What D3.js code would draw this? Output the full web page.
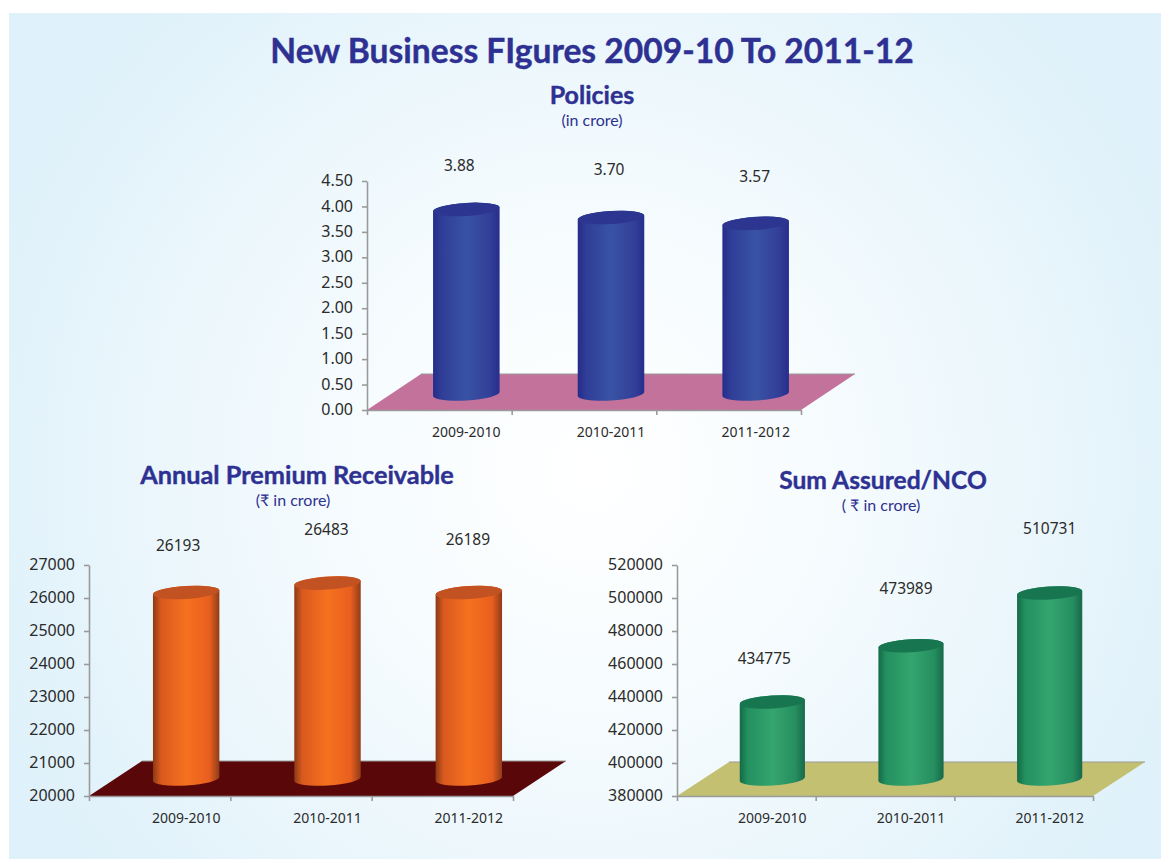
<!DOCTYPE html>
<html>
<head>
<meta charset="utf-8">
<title>New Business Figures</title>
<script src="https://d3js.org/d3.v7.min.js"></script>
<style>
  html, body { margin: 0; background: #fff; }
  svg { display: block; }
  text { font-family: Lato, "Open Sans", sans-serif; }
  .axis text { font-size: 14px; fill: #2b2b2b; font-family: "Noto Sans", sans-serif; }
  .axis line, .axis path { stroke: #9a9a9a; stroke-width: 1.6px; fill: none; }
  .ticks-y text { font-size: 16px; }
  .val { font-size: 15.5px; fill: #2b2b2b; text-anchor: middle; font-family: "Noto Sans", sans-serif; }
  .head { fill: #2e3192; stroke: #2e3192; stroke-width: 0.4px; font-weight: 700; text-anchor: middle; }
  .sub { fill: #2e3192; font-size: 16px; text-anchor: middle; }
</style>
</head>
<body>
<svg id="chart" width="1161" height="859"></svg>
<script>
// data
var years = ['2009-2010', '2010-2011', '2011-2012'];

var policies = [3.88, 3.70, 3.57];
var policyTicks = [0, 0.5, 1, 1.5, 2, 2.5, 3, 3.5, 4, 4.5];

var premium = [26193, 26483, 26189];
var premiumTicks = [20000, 21000, 22000, 23000, 24000, 25000, 26000, 27000];

var sumAssured = [434775, 473989, 510731];
var sumTicks = [380000, 400000, 420000, 440000, 460000, 480000, 500000, 520000];

var svg = d3.select('#chart');
var defs = svg.append('defs');

// page background
var bg = defs.append('radialGradient').attr('id', 'bg')
  .attr('gradientUnits', 'userSpaceOnUse')
  .attr('cx', 590).attr('cy', 470).attr('r', 640);
bg.append('stop').attr('offset', '0%').attr('stop-color', '#ffffff');
bg.append('stop').attr('offset', '35%').attr('stop-color', '#f7fcfe');
bg.append('stop').attr('offset', '100%').attr('stop-color', '#dff1fa');

svg.append('rect').attr('x', 9).attr('y', 13).attr('width', 1152).attr('height', 846).attr('fill', 'url(#bg)');

svg.append('text').attr('class', 'head').attr('x', 592).attr('y', 63)
  .style('font-size', '33.6px').text('New Business FIgures 2009-10 To 2011-12');

function drawPanel(p) {
  var g = svg.append('g');

  // axis scale, and the slightly shorter scale the 3d columns stand on
  var y = d3.scaleLinear().domain(p.domain).range([p.front, p.top]);
  var barY = d3.scaleLinear().domain(p.domain).range([p.barBase, p.barTop]);
  var x = d3.scaleBand().domain(years).range([p.left, p.right]);
  var edge = d3.scaleLinear().domain([0, years.length]).range([p.left, p.right]);

  // floor
  g.append('path')
    .attr('d', d3.line()([[p.left, p.front], [p.right, p.front],
      [p.right + p.depthX, p.front - p.depthY], [p.left + p.depthX, p.front - p.depthY]]) + 'Z')
    .attr('fill', p.floor);
  g.append('line')
    .attr('x1', p.left + p.depthX).attr('x2', p.right + p.depthX)
    .attr('y1', p.front - p.depthY).attr('y2', p.front - p.depthY)
    .attr('stroke', '#9a9a9a').attr('stroke-width', 1.2);

  // axes
  var ay = g.append('g').attr('class', 'axis ticks-y')
    .attr('transform', 'translate(' + p.left + ',0)')
    .call(d3.axisLeft(y).tickValues(p.ticks).tickFormat(p.format).tickSize(5).tickSizeOuter(0));
  ay.selectAll('text').attr('x', -14).attr('y', -0.5);

  g.append('g').attr('class', 'axis')
    .attr('transform', 'translate(0,' + p.front + ')')
    .call(d3.axisBottom(edge).tickValues(d3.range(years.length + 1)).tickFormat('').tickSize(5).tickSizeOuter(0));

  var ax = g.append('g').attr('class', 'axis')
    .attr('transform', 'translate(' + (p.depthX / 2) + ',' + (p.front + 14.5) + ')')
    .call(d3.axisBottom(x).tickSize(0));
  ax.select('.domain').remove();

  // column shading
  var grad = defs.append('linearGradient').attr('id', p.id);
  p.shade.forEach(function(c, i) {
    grad.append('stop').attr('offset', [0, 0.12, 0.5, 0.85, 1][i]).attr('stop-color', c);
  });

  var w = x.bandwidth() * p.barWidth, ry = 6.5, tilt = -3.5;
  var cols = g.selectAll('.col').data(p.values).enter().append('g').attr('class', 'col')
    .attr('transform', function(d, i) {
      return 'translate(' + (x(years[i]) + x.bandwidth() / 2 + p.depthX / 2) + ',0)';
    });

  cols.append('path').attr('fill', 'url(#' + p.id + ')')
    .attr('d', function(d) {
      var arc = 'A' + (w / 2) + ',' + ry + ' ' + tilt + ' 0 ';
      var t = barY(d), b = p.floorY;
      var sx = w / 2, sy = Math.sin(-tilt * Math.PI / 180) * w / 2;
      return 'M' + (-sx) + ',' + (t + sy) + ' L' + (-sx) + ',' + (b + sy) +
        ' ' + arc + '0 ' + sx + ',' + (b - sy) +
        ' L' + sx + ',' + (t - sy) + ' ' + arc + '0 ' + (-sx) + ',' + (t + sy) + 'Z';
    });

  cols.append('ellipse').attr('rx', w / 2).attr('ry', ry).attr('fill', p.cap)
    .attr('transform', function(d) { return 'translate(0,' + barY(d) + ') rotate(' + tilt + ')'; });

  cols.append('text').attr('class', 'val')
    .attr('x', function(d, i) { return p.labelDx[i]; })
    .attr('y', function(d, i) { return barY(d) + p.labelDy[i] + 5; })
    .text(function(d) { return p.label(d); });

  // headings
  svg.append('text').attr('class', 'head').attr('x', p.headX).attr('y', p.headY)
    .style('font-size', p.headSize + 'px').text(p.head);
  svg.append('text').attr('class', 'sub').attr('x', p.subX).attr('y', p.headY + p.subGap).text(p.sub);
}

drawPanel({
  id: 'blueCol', head: 'Policies', sub: '(in crore)', headX: 592, headY: 104, headSize: 25, subX: 592, subGap: 22,
  values: policies, ticks: policyTicks, domain: [0, 4.5],
  format: d3.format('.2f'), label: d3.format('.2f'),
  left: 367, right: 801, front: 410, top: 181, depthX: 54, depthY: 36,
  barBase: 384.1, barTop: 181.5, floorY: 394, barWidth: 0.46,
  floor: '#c3729b', cap: '#2c3590',
  shade: ['#252c8a', '#2f3d96', '#3953a4', '#323f98', '#272d8c'],
  labelDx: [-7, -2, -1], labelDy: [-43.5, -48, -46]
});

drawPanel({
  id: 'orangeCol', head: 'Annual Premium Receivable', sub: '(₹ in crore)', headX: 297, headY: 484, headSize: 25.3, subX: 293, subGap: 22,
  values: premium, ticks: premiumTicks, domain: [20000, 27000],
  format: d3.format('d'), label: d3.format('d'),
  left: 89, right: 513, front: 796, top: 565, depthX: 53, depthY: 35,
  barBase: 791.5, barTop: 566.5, floorY: 779, barWidth: 0.47,
  floor: '#5a0709', cap: '#c25222',
  shade: ['#8a3a16', '#d9591e', '#f6711f', '#e85f1e', '#8f3c18'],
  labelDx: [-8, -1, -1], labelDy: [-46, -53, -52.5]
});

drawPanel({
  id: 'greenCol', head: 'Sum Assured/NCO', sub: '( ₹ in crore)', headX: 883, headY: 489, headSize: 24.6, subX: 881, subGap: 22,
  values: sumAssured, ticks: sumTicks, domain: [380000, 520000],
  format: d3.format('d'), label: d3.format('d'),
  left: 677, right: 1093, front: 796, top: 565, depthX: 52, depthY: 34,
  barBase: 780.6, barTop: 579.7, floorY: 779, barWidth: 0.47,
  floor: '#c3c171', cap: '#17754f',
  shade: ['#146a45', '#239060', '#35a56f', '#268f60', '#17694a'],
  labelDx: [-8, -5, 0], labelDy: [-43, -57, -64]
});
</script>
</body>
</html>
